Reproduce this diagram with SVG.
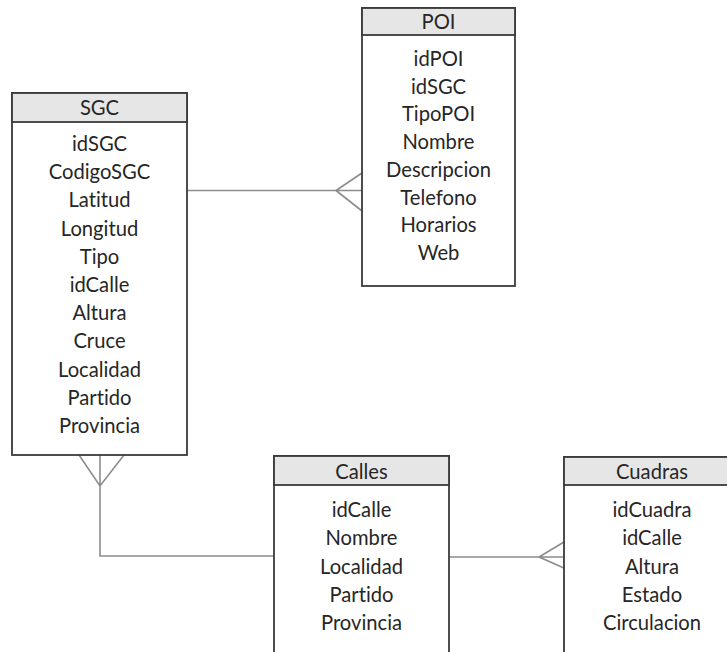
<svg xmlns="http://www.w3.org/2000/svg" width="727" height="652" viewBox="0 0 727 652">
<style>
.box{fill:#fff;stroke:#3a3a3a;stroke-width:1.8}
.hdr{fill:#e6e6e6;stroke:#3a3a3a;stroke-width:1.8}
.t{font-family:Lato,"Open Sans",sans-serif;font-size:20.2px;fill:#262626;text-anchor:middle;font-variant-ligatures:none;font-feature-settings:"liga" 0}
.c{fill:none;stroke:#8c8c8c;stroke-width:1.6}
</style>
<rect width="727" height="652" fill="#fff"/>
<g id="connectors">
<path class="c" d="M187 190.5H362M336 190.5L362 173M336 190.5L362 211"/>
<path class="c" d="M100 455V556H274M79 455L100 486L124 455"/>
<path class="c" d="M449 557H564M539 557L564 542M539 557L564 568"/>
</g>
<g id="POI">
<rect class="box" x="362" y="8" width="153" height="278"/>
<rect class="hdr" x="362" y="8" width="153" height="27"/>
<text class="t" x="438.5" y="29">POI</text>
<text class="t" x="438.5" y="66">idPOI</text>
<text class="t" x="438.5" y="93.7">idSGC</text>
<text class="t" x="438.5" y="121.4">TipoPOI</text>
<text class="t" x="438.5" y="149">Nombre</text>
<text class="t" x="438.5" y="176.8">Descripcion</text>
<text class="t" x="438.5" y="204.5">Telefono</text>
<text class="t" x="438.5" y="232">Horarios</text>
<text class="t" x="438.5" y="260">Web</text>
</g>
<g id="SGC">
<rect class="box" x="12" y="93" width="175" height="362"/>
<rect class="hdr" x="12" y="93" width="175" height="29"/>
<text class="t" x="99.5" y="115">SGC</text>
<text class="t" x="99.5" y="151">idSGC</text>
<text class="t" x="99.5" y="179.2">CodigoSGC</text>
<text class="t" x="99.5" y="207.4">Latitud</text>
<text class="t" x="99.5" y="235.6">Longitud</text>
<text class="t" x="99.5" y="263.8">Tipo</text>
<text class="t" x="99.5" y="292">idCalle</text>
<text class="t" x="99.5" y="320.2">Altura</text>
<text class="t" x="99.5" y="348.4">Cruce</text>
<text class="t" x="99.5" y="376.6">Localidad</text>
<text class="t" x="99.5" y="404.8">Partido</text>
<text class="t" x="99.5" y="433">Provincia</text>
</g>
<g id="Calles">
<rect class="box" x="274" y="456" width="175" height="220"/>
<rect class="hdr" x="274" y="456" width="175" height="29"/>
<text class="t" x="361.5" y="479">Calles</text>
<text class="t" x="361.5" y="517">idCalle</text>
<text class="t" x="361.5" y="545.3">Nombre</text>
<text class="t" x="361.5" y="573.6">Localidad</text>
<text class="t" x="361.5" y="601.9">Partido</text>
<text class="t" x="361.5" y="630.2">Provincia</text>
</g>
<g id="Cuadras">
<rect class="box" x="564" y="457" width="176" height="220"/>
<rect class="hdr" x="564" y="457" width="176" height="28"/>
<text class="t" x="652" y="479">Cuadras</text>
<text class="t" x="652" y="517">idCuadra</text>
<text class="t" x="652" y="545.3">idCalle</text>
<text class="t" x="652" y="573.6">Altura</text>
<text class="t" x="652" y="601.9">Estado</text>
<text class="t" x="652" y="630.2">Circulacion</text>
</g>
</svg>
